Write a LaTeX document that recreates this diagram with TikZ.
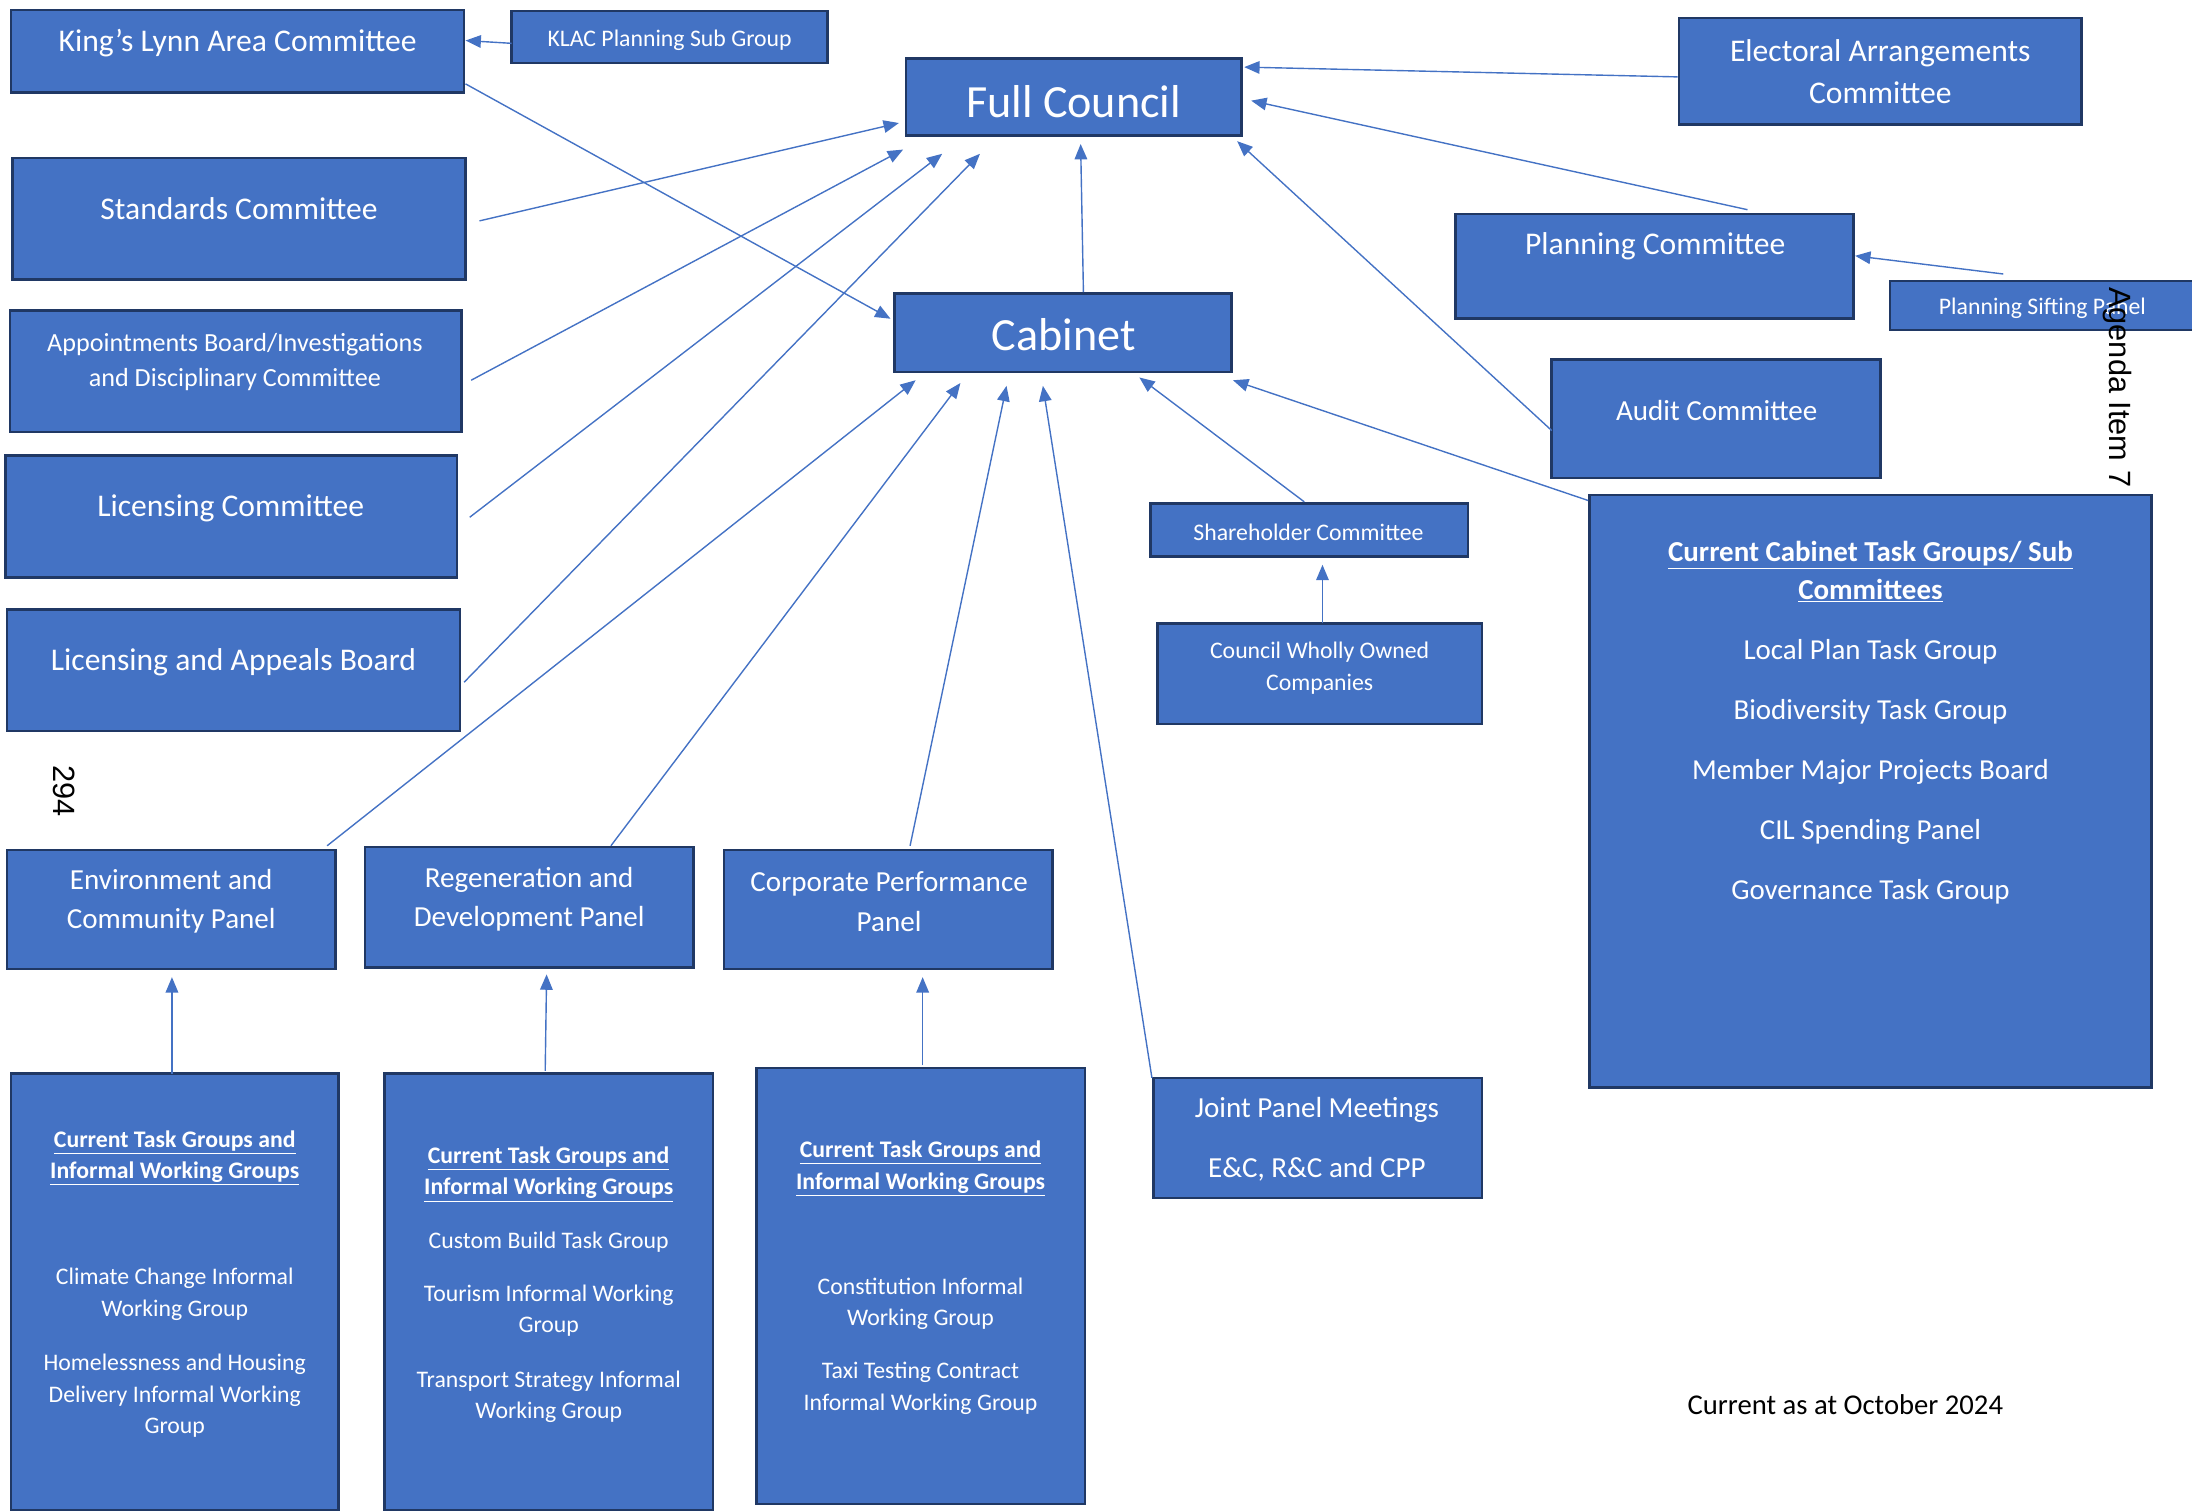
\documentclass[tikz,border=0pt]{standalone}
\usepackage{fontspec}
\setmainfont{Carlito}
\newfontfamily\pagefont{Liberation Sans}
\usetikzlibrary{arrows.meta}
\pgfdeclarelayer{nodelayer}
\pgfdeclarelayer{edgelayer}
\pgfsetlayers{nodelayer,edgelayer,main}
\definecolor{boxfill}{HTML}{4472C4}
\definecolor{boxline}{HTML}{203864}
\tikzset{
    box/.style = {draw=boxline, fill=boxfill, line width=1.8pt, inner sep=0pt, outer sep=0pt},
    words/.style = {text=white, align=center, inner sep=0pt, yshift=-1.5pt},
    bigtext/.style = {words, font=\fontsize{33}{40}\selectfont},
    maintext/.style = {words, font=\fontsize{22.6}{30}\selectfont},
    midtext/.style = {words, font=\fontsize{20.8}{28}\selectfont},
    smalltext/.style = {words, font=\fontsize{17}{22.5}\selectfont},
    link/.style = {->, draw=boxfill, line width=1pt}
}

\begin{document}
\begin{tikzpicture}[x=1pt, y=-1pt]
    % Office style filled arrow heads
    \tikzset{>={Triangle[length=11pt, width=9pt]}}
    \useasboundingbox (0, 0) rectangle (1568, 1081);

    \begin{pgfonlayer}{nodelayer}
        \node [style=box, minimum width=324pt, minimum height=59pt] (0) at (170, 36.5) {};
        \node [style=box, minimum width=226pt, minimum height=37pt] (1) at (479, 26.5) {};
        \node [style=box, minimum width=240pt, minimum height=55pt] (2) at (768, 69.5) {};
        \node [style=box, minimum width=288pt, minimum height=76pt] (3) at (1345, 51) {};
        \node [style=box, minimum width=324pt, minimum height=87pt] (4) at (171, 156.5) {};
        \node [style=box, minimum width=323pt, minimum height=87pt] (5) at (168.5, 265.5) {};
        \node [style=box, minimum width=323pt, minimum height=87pt] (6) at (165.5, 369.5) {};
        \node [style=box, minimum width=324pt, minimum height=87pt] (7) at (167, 479.5) {};
        \node [style=box, minimum width=241pt, minimum height=56pt] (8) at (760.5, 238) {};
        \node [style=box, minimum width=285pt, minimum height=75pt] (9) at (1183.5, 190.5) {};
        \node [style=box, minimum width=220pt, minimum height=35pt] (10) at (1462, 218.5) {};
        \node [style=box, minimum width=235pt, minimum height=85pt] (11) at (1227.5, 299.5) {};
        \node [style=box, minimum width=227pt, minimum height=38pt] (12) at (936.5, 379) {};
        \node [style=box, minimum width=232pt, minimum height=72pt] (13) at (944, 482) {};
        \node [style=box, minimum width=402pt, minimum height=424pt] (14) at (1338, 566) {};
        \node [style=box, minimum width=235pt, minimum height=85pt] (15) at (122.5, 650.5) {};
        \node [style=box, minimum width=235pt, minimum height=86pt] (16) at (378.5, 649) {};
        \node [style=box, minimum width=235pt, minimum height=85pt] (17) at (635.5, 650.5) {};
        \node [style=box, minimum width=235pt, minimum height=86pt] (18) at (942.5, 814) {};
        \node [style=box, minimum width=234pt, minimum height=312pt] (19) at (125, 924) {};
        \node [style=box, minimum width=235pt, minimum height=312pt] (20) at (392.5, 924) {};
        \node [style=box, minimum width=235pt, minimum height=312pt] (21) at (658.5, 920) {};
    \end{pgfonlayer}

    \begin{pgfonlayer}{edgelayer}
        \draw [style=link] ([yshift=-4.5pt]1.west) to ([xshift=1pt, yshift=7.5pt]0.east);
        \draw [style=link] ([xshift=1pt, yshift=6pt]0.south east) to ([xshift=-3pt, yshift=10pt]8.west);
        \draw [style=link] ([xshift=10pt, yshift=-1.5pt]4.east) to ([xshift=-5pt, yshift=9pt]2.south west);
        \draw [style=link] ([xshift=7pt, yshift=-6.5pt]5.east) to ([xshift=-2pt, yshift=-10pt]2.south west);
        \draw [style=link] ([xshift=9pt, yshift=-0.5pt]6.east) to ([xshift=26pt, yshift=-13pt]2.south west);
        \draw [style=link] ([xshift=3pt, yshift=-8.5pt]7.east) to ([xshift=53pt, yshift=-13pt]2.south west);
        \draw [style=link] ([xshift=-6pt, yshift=3pt]15.north east) to ([xshift=15pt, yshift=-6pt]8.south west);
        \draw [style=link] ([xshift=58.5pt, yshift=1pt]16.north) to ([xshift=47pt, yshift=-8pt]8.south west);
        \draw [style=link] ([xshift=15.5pt, yshift=3pt]17.north) to ([xshift=80pt, yshift=-10pt]8.south west);
        \draw [style=link] ([xshift=-1pt]18.north west) to ([xshift=106pt, yshift=-10pt]8.south west);
        \draw [style=link] ([xshift=14.5pt, yshift=1pt]8.north) to ([xshift=5pt, yshift=-6pt]2.south);
        \draw [style=link] ([xshift=-3.5pt, yshift=1pt]12.north) to ([xshift=-66pt, yshift=-4pt]8.south east);
        \draw [style=link] ([xshift=-1pt, yshift=-4pt]14.north west) to ([xshift=1pt, yshift=-6pt]8.south east);
        \draw [style=link] ([yshift=-8.5pt]11.west) to ([xshift=-3pt, yshift=-4pt]2.south east);
        \draw [style=link] ([xshift=66.5pt, yshift=3pt]9.north) to ([xshift=7pt, yshift=-2.5pt]2.east);
        \draw [style=link] ([xshift=-1pt, yshift=-4pt]3.west) to ([xshift=2pt, yshift=-6pt]2.north east);
        \draw [style=link] ([xshift=-29pt, yshift=5pt]10.north) to ([xshift=1pt, yshift=7.5pt]9.east);
        \draw [style=link] ([xshift=2pt]13.north) to ([xshift=9.5pt, yshift=-6pt]12.south);
        \draw [style=link] ([xshift=-2pt]19.north) to ([xshift=0.5pt, yshift=-6pt]15.south);
        \draw [style=link] ([xshift=-2.5pt, yshift=2pt]20.north) to ([xshift=12.5pt, yshift=-5pt]16.south);
        \draw [style=link] ([xshift=1.5pt, yshift=2pt]21.north) to ([xshift=24.5pt, yshift=-6pt]17.south);
    \end{pgfonlayer}

    \node [style=maintext] (22) at (170, 29) {King’s Lynn Area Committee};
    \node [style=smalltext] (23) at (479, 27) {KLAC Planning Sub Group};
    \node [style=bigtext] (24) at (768, 71) {Full Council};
    \node [style=maintext] (25) at (1345, 50) {Electoral Arrangements\\Committee};
    \node [style=maintext] (26) at (171, 148) {Standards Committee};
    \node [style=words, font=\fontsize{18.7}{25}\selectfont] (27) at (168, 257.5) {Appointments Board/Investigations\\and Disciplinary Committee};
    \node [style=maintext] (28) at (165, 362) {Licensing Committee};
    \node [style=maintext] (29) at (167, 472) {Licensing and Appeals Board};
    \node [style=bigtext] (30) at (761, 238) {Cabinet};
    \node [style=maintext] (31) at (1184, 175) {Planning Committee};
    \node [style=smalltext] (32) at (1461, 219) {Planning Sifting Panel};
    \node [style=midtext] (33) at (1228, 292) {Audit Committee};
    \node [style=smalltext] (34) at (936, 379) {Shareholder Committee};
    \node [style=smalltext] (35) at (944, 476.5) {Council Wholly Owned\\Companies};
    \node [style=words, font=\fontsize{20.7}{27}\selectfont] (36) at (1338, 515.5) {\underline{\textbf{Current Cabinet Task Groups/ Sub}}\\\underline{\textbf{Committees}}\\[16pt]Local Plan Task Group\\[16pt]Biodiversity Task Group\\[16pt]Member Major Projects Board\\[16pt]CIL Spending Panel\\[16pt]Governance Task Group};
    \node [style=midtext] (37) at (122.5, 643) {Environment and\\Community Panel};
    \node [style=midtext] (38) at (378.5, 642) {Regeneration and\\Development Panel};
    \node [style=midtext] (39) at (636, 643.5) {Corporate Performance\\Panel};
    \node [style=midtext] (40) at (942, 813.5) {Joint Panel Meetings\\[15pt]E\&C, R\&C and CPP};
    \node [style=smalltext] (41) at (125, 917) {\underline{\textbf{Current Task Groups and}}\\\underline{\textbf{Informal Working Groups}}\\[53.5pt]Climate Change Informal\\Working Group\\[16.5pt]Homelessness and Housing\\Delivery Informal Working\\Group};
    \node [style=smalltext] (42) at (392.5, 917.5) {\underline{\textbf{Current Task Groups and}}\\\underline{\textbf{Informal Working Groups}}\\[15.5pt]Custom Build Task Group\\[15.5pt]Tourism Informal Working\\Group\\[16.5pt]Transport Strategy Informal\\Working Group};
    \node [style=smalltext] (43) at (658.5, 912.5) {\underline{\textbf{Current Task Groups and}}\\\underline{\textbf{Informal Working Groups}}\\[52.5pt]Constitution Informal\\Working Group\\[15.5pt]Taxi Testing Contract\\Informal Working Group};
    \node [style=words, text=black, font=\fontsize{20.5}{24}\selectfont] (44) at (1320, 1003) {Current as at October 2024};
    \node [inner sep=0pt, rotate=-90, font=\pagefont\fontsize{22}{26}\selectfont] (45) at (46, 566) {294};
    \node [inner sep=0pt, rotate=-90, font=\pagefont\fontsize{22}{26}\selectfont] (46) at (1515, 277) {Agenda Item 7};
\end{tikzpicture}
\end{document}
